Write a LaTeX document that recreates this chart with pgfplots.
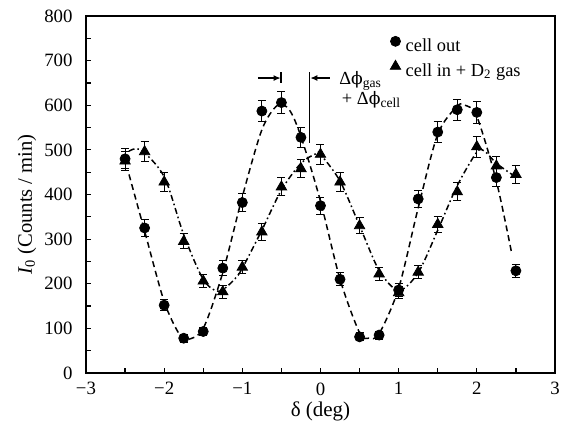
\documentclass[border=0pt]{standalone}
\usepackage{fontspec}
\setmainfont{Liberation Serif}
\newfontfamily\dvs{DejaVu Serif}
\usepackage{pgfplots}
\usepackage{pgfplotstable}
\pgfplotsset{compat=1.18}
\usetikzlibrary{arrows.meta}

\pgfplotstableread{
x y e
-2.5 480 22
-2.25 325 18
-2 152 12
-1.75 78 9
-1.5 93 10
-1.25 235 16
-1 382 20
-0.75 587 24
-0.5 606 25
-0.25 528 23
0 375 19
0.25 210 15
0.5 81 9
0.75 85 9
1 186 14
1.25 390 20
1.5 540 23
1.75 590 24
2 584 24
2.25 438 21
2.5 229 15
}\cellout

\pgfplotstableread{
x y e
-2.5 475 22
-2.25 496 22
-2 428 21
-1.75 295 17
-1.5 206 14
-1.25 182 14
-1 237 15
-0.75 316 18
-0.5 417 20
-0.25 458 21
0 490 22
0.25 428 21
0.5 330 18
0.75 222 15
1 180 13
1.25 226 15
1.5 333 18
1.75 406 20
2 507 23
2.25 464 22
2.5 445 21
}\cellin

\pgfplotstableread{
x y
-2.45 445
-2.25 318
-2.0 160
-1.8 85
-1.7 75
-1.5 100
-1.25 225
-1.0 395
-0.75 545
-0.55 600
-0.4 590
-0.25 530
0 385
0.25 210
0.5 90
0.62 78
0.75 88
1.0 190
1.25 370
1.5 535
1.75 598
1.85 600
2.0 575
2.25 430
2.45 265
}\fitout

\pgfplotstableread{
x y
-2.45 497
-2.3 500
-2.0 440
-1.75 310
-1.5 210
-1.3 183
-1.1 210
-1.0 235
-0.75 320
-0.5 410
-0.25 470
-0.05 492
0.0 490
0.25 430
0.5 330
0.75 230
1.0 185
1.25 225
1.5 320
1.75 420
2.0 495
2.1 497
2.25 470
2.45 445
}\fitin

\begin{document}
\fontsize{9.2}{11}\selectfont
\begin{tikzpicture}
\useasboundingbox (-43pt,-27.5pt) rectangle (241.5pt,186.5pt);
\begin{axis}[
  at={(0,0)}, anchor=south west,
  scale only axis, width=234.5pt, height=178.5pt,
  xmin=-3, xmax=3, ymin=0, ymax=800,
  xtick={-3,...,3}, xticklabels={−3,−2,−1,0,1,2,3},
  minor xtick={-2.5,-1.5,...,2.5},
  ytick={0,100,...,800}, minor ytick={50,150,...,750},
  tick align=inside, xtick pos=bottom, ytick pos=left,
  major tick length=2.5pt, minor tick length=2.5pt,
  tick style={black, line width=0.6pt},
  axis line style={line width=0.75pt},
  /pgf/number format/assume math mode=true,
  ticklabel style={font=\fontsize{9.4}{11}\selectfont},
  xticklabel style={yshift=-1.5pt},
  yticklabel style={xshift=-3.5pt},
  xlabel={δ (deg)},
  ylabel={{\itshape I}\textsubscript{0} (Counts / min)},
  every axis x label/.style={at={(axis description cs:0.5,0)}, yshift=-19.3pt, anchor=center, font=\fontsize{10.5}{12}\selectfont},
  every axis y label/.style={at={(axis description cs:0,0.5)}, xshift=-29.5pt, yshift=-5pt, rotate=90, anchor=center, font=\fontsize{10.3}{12}\selectfont},
  legend style={draw=none, fill=none, inner sep=0pt, at={(0.648,0.947)}, anchor=north west,
    column sep=1.5pt, row sep=1.5pt,
    nodes={inner sep=1pt, text height=7pt, text depth=2pt, font=\fontsize{9.2}{11}\selectfont}},
  legend cell align=left,
  legend image code/.code={\draw[#1] plot coordinates {(0pt,2.5pt)};},
]
\addplot[black, line width=0.75pt, dash pattern=on 3pt off 2pt, smooth, forget plot] table[x=x,y=y] {\fitout};
\addplot[black, line width=0.75pt, dash pattern=on 3pt off 1.5pt on 0.8pt off 1.5pt, smooth, forget plot] table[x=x,y=y] {\fitin};
\addplot[black, only marks, mark=*, mark size=2.5pt,
  error bars/.cd, y dir=both, y explicit,
  error bar style={line width=0.5pt, black},
  error mark options={rotate=90, mark size=2pt, line width=0.5pt, black}]
  table[x=x, y=y, y error=e] {\cellout};
\addlegendentry{cell out}
\addplot[black, only marks, mark=triangle*, mark size=3pt,
  error bars/.cd, y dir=both, y explicit,
  error bar style={line width=0.5pt, black},
  error mark options={rotate=90, mark size=2pt, line width=0.5pt, black}]
  table[x=x, y=y, y error=e] {\cellin};
\addlegendentry{cell in + D\textsubscript{2} gas}
% annotation
\draw[line width=0.6pt] (axis cs:-0.506,650) -- (axis cs:-0.506,675);
\draw[line width=0.6pt, -{Latex[length=3.5pt,width=3pt]}] (axis cs:-0.80,661) -- (axis cs:-0.51,661);
\draw[line width=0.6pt] (axis cs:-0.136,516) -- (axis cs:-0.136,675);
\draw[line width=0.6pt, -{Latex[length=3.5pt,width=3pt]}] (axis cs:0.12,661) -- (axis cs:-0.13,661);
\node[anchor=base west, inner sep=0pt] at (axis cs:0.235,646) {Δ{\dvs\fontsize{8.6}{10}\selectfont ϕ}\raisebox{-1.2pt}{\fontsize{6.8}{8}\selectfont gas}};
\node[anchor=base west, inner sep=0pt] at (axis cs:0.27,601) {+ Δ{\dvs\fontsize{8.6}{10}\selectfont ϕ}\raisebox{-1.2pt}{\fontsize{6.8}{8}\selectfont cell}};
\end{axis}
\end{tikzpicture}
\end{document}
